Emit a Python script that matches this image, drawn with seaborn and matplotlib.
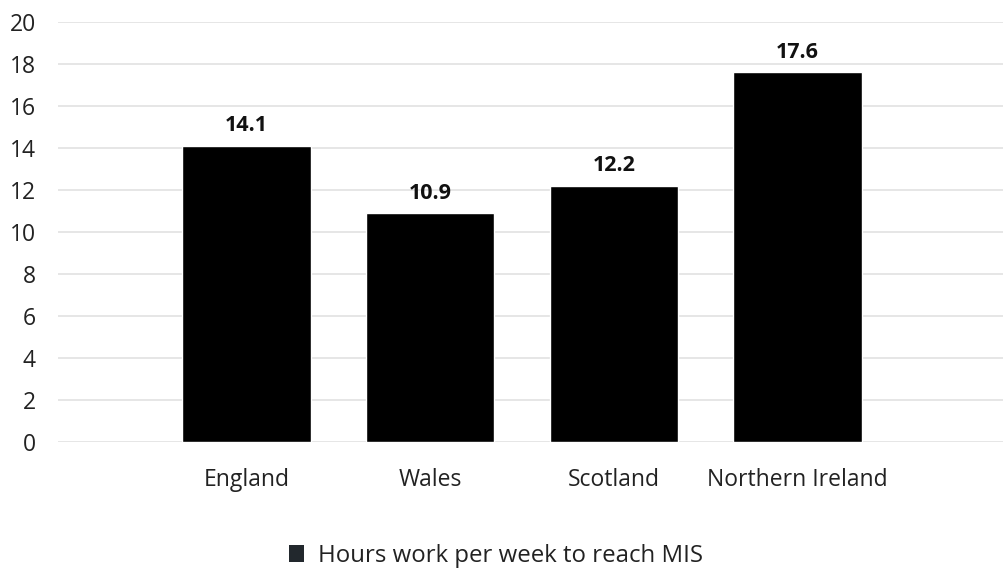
import matplotlib
matplotlib.use("Agg")
import matplotlib.pyplot as plt
import seaborn as sns
import pandas as pd
from matplotlib.patches import Patch

categories = ["England", "Wales", "Scotland", "Northern Ireland"]
values = [14.1, 10.9, 12.2, 17.6]
series_name = "Hours work per week to reach MIS"
yticks = [0, 2, 4, 6, 8, 10, 12, 14, 16, 18, 20]

sns.set_theme(style="white")
plt.rcParams["font.family"] = ["Open Sans", "DejaVu Sans"]

df = pd.DataFrame({"region": categories, "hours": values})

fig = plt.figure(figsize=(10.04, 5.70), dpi=100)
ax = fig.add_axes([58 / 1004, 1 - 442 / 570, (1004 - 58) / 1004, (442 - 22) / 570])

sns.barplot(data=df, x="region", y="hours", color="#000000", width=0.70,
            saturation=1, ax=ax, zorder=3)

ax.set_xlim(-1.026, 4.124)
ax.set_ylim(0, 20)
ax.set_yticks(yticks)
ax.set_yticklabels([str(t) for t in yticks], fontsize=16.5, color="#222222")
ax.tick_params(axis="x", labelsize=16.5, colors="#222222", length=0, pad=19)
ax.tick_params(axis="y", length=0, pad=16)
ax.grid(axis="y", color="#e2e2e2", linewidth=1.2, zorder=0)
ax.set_axisbelow(True)
for s in ax.spines.values():
    s.set_visible(False)
ax.set_xlabel("")
ax.set_ylabel("")

for i, v in enumerate(values):
    ax.text(i, v + 0.45, f"{v}", ha="center", va="bottom", fontsize=15.5,
            fontweight="bold", color="#111111")

handles = [Patch(facecolor="#22282d", edgecolor="none", label=series_name)]
fig.legend(handles=handles, loc="center", bbox_to_anchor=(496 / 1004, 1 - 556 / 570),
           frameon=False, fontsize=17.3, handlelength=0.62, handleheight=0.68,
           handletextpad=0.55, labelcolor="#222222")

fig.savefig("out.png", dpi=100)
